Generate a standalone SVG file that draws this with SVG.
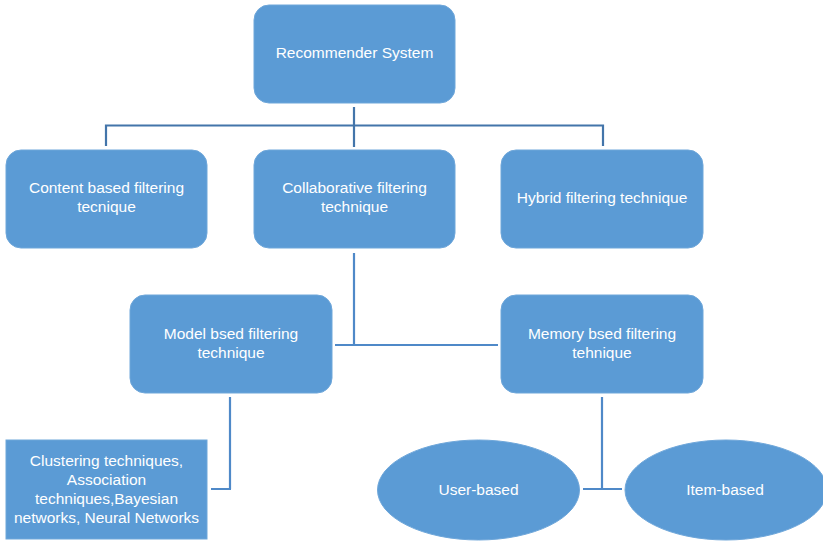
<svg xmlns="http://www.w3.org/2000/svg" width="823" height="543" viewBox="0 0 823 543">
<style>
.box{fill:#5B9BD5;stroke:#6FA7DA;stroke-width:1}
.t{font-family:"Liberation Sans",Arial,sans-serif;font-size:15.5px;fill:#FFFFFF;text-anchor:middle}
.c1{stroke:#4375AA;stroke-width:2.2;fill:none}
.c2{stroke:#4F89C8;stroke-width:2.2;fill:none}
</style>
<rect width="823" height="543" fill="#FFFFFF"/>
<g id="connectors">
<path class="c1" d="M354 107V147M106 125.5H603M106 124.5V146M603 124.5V146"/>
<path class="c2" d="M354 253V345M335 345H498"/>
<path class="c2" d="M230 397V489M211 489H231"/>
<path class="c2" d="M602 397V489M583 489H622"/>
</g>
<g id="recommender-system">
<rect class="box" x="254" y="5" width="201" height="98" rx="15"/>
<text class="t" x="354.5" y="58">Recommender System</text>
</g>
<g id="content-based">
<rect class="box" x="6" y="150" width="201" height="98" rx="15"/>
<text class="t" x="106.5" y="193">Content based filtering</text>
<text class="t" x="106.5" y="212">tecnique</text>
</g>
<g id="collaborative">
<rect class="box" x="254" y="150" width="201" height="98" rx="15"/>
<text class="t" x="354.5" y="193">Collaborative filtering</text>
<text class="t" x="354.5" y="212">technique</text>
</g>
<g id="hybrid">
<rect class="box" x="501" y="150" width="202" height="98" rx="15"/>
<text class="t" x="602" y="203">Hybrid filtering technique</text>
</g>
<g id="model-based">
<rect class="box" x="130" y="295" width="202" height="98" rx="15"/>
<text class="t" x="231" y="339">Model bsed filtering</text>
<text class="t" x="231" y="358">technique</text>
</g>
<g id="memory-based">
<rect class="box" x="501" y="295" width="202" height="98" rx="15"/>
<text class="t" x="602" y="339">Memory bsed filtering</text>
<text class="t" x="602" y="358">tehnique</text>
</g>
<g id="model-techniques">
<rect class="box" x="6" y="440" width="201" height="99"/>
<text class="t" x="106.5" y="466">Clustering techniques,</text>
<text class="t" x="106.5" y="485">Association</text>
<text class="t" x="106.5" y="504">techniques,Bayesian</text>
<text class="t" x="106.5" y="523">networks, Neural Networks</text>
</g>
<g id="user-based">
<ellipse class="box" cx="478.5" cy="490" rx="101" ry="50"/>
<text class="t" x="478.5" y="495">User-based</text>
</g>
<g id="item-based">
<ellipse class="box" cx="726" cy="490" rx="101" ry="50"/>
<text class="t" x="725" y="495">Item-based</text>
</g>
</svg>
